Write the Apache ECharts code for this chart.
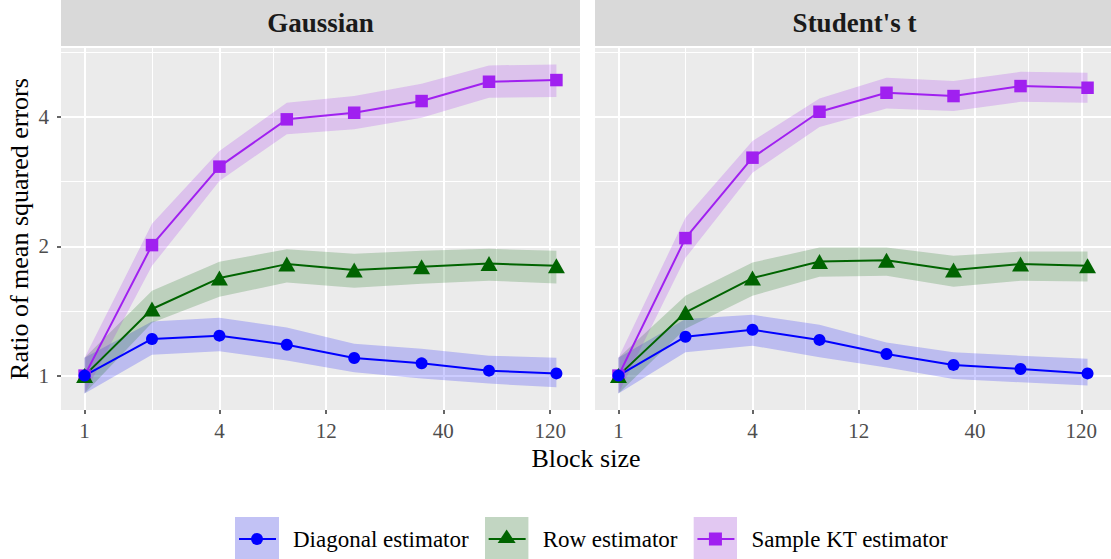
<!DOCTYPE html>
<html><head><meta charset="utf-8">
<script src="https://cdn.jsdelivr.net/npm/echarts@6/dist/echarts.min.js"></script>
<style>html,body{margin:0;padding:0;background:#fff}#c{width:1111px;height:559px}</style>
</head><body><div id="c"></div>
<script>
// ---------------- data ----------------
const blockSizes = [1, 2, 4, 8, 16, 32, 64, 128];
const xTickLabels = [1, 4, 12, 40, 120];
const xMinorBreaks = [2, 6.928, 21.909, 69.282];
const yTickLabels = [1, 2, 4];
const yMinorBreaks = [1.4142, 2.8284, 5.6569];
const facets = ['Gaussian', "Student's t"];
const estimators = ['Diagonal estimator', 'Row estimator', 'Sample KT estimator'];

// Gaussian facet
const gaussDiag   = [1, 1.217, 1.239, 1.180, 1.099, 1.068, 1.027, 1.012];
const gaussDiagLo = [0.908, 1.119, 1.139, 1.084, 1.018, 0.984, 0.958, 0.939];
const gaussDiagHi = [1.101, 1.337, 1.364, 1.295, 1.187, 1.155, 1.113, 1.101];
const gaussRow    = [1, 1.429, 1.687, 1.818, 1.761, 1.792, 1.824, 1.802];
const gaussRowLo  = [0.908, 1.328, 1.526, 1.648, 1.602, 1.636, 1.663, 1.639];
const gaussRowHi  = [1.101, 1.576, 1.841, 1.970, 1.921, 1.952, 1.973, 1.952];
const gaussKT     = [1, 2.013, 3.066, 3.951, 4.093, 4.358, 4.833, 4.877];
const gaussKTLo   = [0.908, 1.801, 2.840, 3.646, 3.745, 3.986, 4.435, 4.452];
const gaussKTHi   = [1.101, 2.256, 3.334, 4.318, 4.476, 4.780, 5.275, 5.303];
// Student's t facet
const tDiag   = [1, 1.232, 1.279, 1.211, 1.123, 1.059, 1.036, 1.012];
const tDiagLo = [0.908, 1.133, 1.174, 1.103, 1.045, 0.982, 0.965, 0.948];
const tDiagHi = [1.101, 1.355, 1.386, 1.314, 1.195, 1.133, 1.113, 1.094];
const tRow    = [1, 1.403, 1.687, 1.844, 1.857, 1.761, 1.818, 1.802];
const tRowLo  = [0.908, 1.286, 1.535, 1.699, 1.708, 1.610, 1.663, 1.657];
const tRowHi  = [1.101, 1.535, 1.834, 1.987, 1.987, 1.901, 1.945, 1.945];
const tKT     = [1, 2.090, 3.217, 4.115, 4.556, 4.476, 4.722, 4.680];
const tKTLo   = [0.908, 1.880, 2.969, 3.792, 4.190, 4.130, 4.341, 4.318];
const tKTHi   = [1.101, 2.330, 3.518, 4.420, 4.936, 4.850, 5.098, 5.070];

// ---------------- helpers ----------------
const FONT = 'Liberation Serif';
const L2 = v => Math.log2(v);
const xs = blockSizes.map(L2);
const pairs = arr => arr.map((v, i) => [xs[i], L2(v)]);

const panelData = [
  { 'Diagonal estimator': [gaussDiag, gaussDiagLo, gaussDiagHi],
    'Row estimator': [gaussRow, gaussRowLo, gaussRowHi],
    'Sample KT estimator': [gaussKT, gaussKTLo, gaussKTHi] },
  { 'Diagonal estimator': [tDiag, tDiagLo, tDiagHi],
    'Row estimator': [tRow, tRowLo, tRowHi],
    'Sample KT estimator': [tKT, tKTLo, tKTHi] }
];

const styles = {
  'Diagonal estimator':  { color: '#0000FF', symbol: 'circle',   size: 12,       key: '#C2C2F5' },
  'Row estimator':       { color: '#006400', symbol: 'triangle', size: [17, 15], key: '#C2D6C2' },
  'Sample KT estimator': { color: '#A020F0', symbol: 'rect',     size: 12.5,     key: '#E2C8F2' }
};

function keyIcon(name) {
  const st = styles[name];
  let mark;
  if (st.symbol === 'circle') mark = `<circle cx='22' cy='22' r='6' fill='${st.color}'/>`;
  else if (st.symbol === 'triangle') mark = `<polygon points='22,12.5 13,26 31,26' fill='${st.color}'/>`;
  else mark = `<rect x='15.5' y='15.5' width='13' height='13' fill='${st.color}'/>`;
  const svg = `<svg xmlns='http://www.w3.org/2000/svg' width='44' height='44' viewBox='0 0 44 44'>` +
    `<rect width='44' height='44' fill='${st.key}'/>` +
    `<line x1='4' y1='22' x2='41' y2='22' stroke='${st.color}' stroke-width='2'/>` + mark + `</svg>`;
  return 'image://data:image/svg+xml;charset=utf-8,' + encodeURIComponent(svg);
}

// ---------------- layout ----------------
const PANEL_TOP = 48, PANEL_H = 362, PANEL_W = 519;
const PANEL_LEFT = [61, 595];
const XMIN = -0.35, XMAX = 7.35, YMIN = -0.266, YMAX = 2.534;

const grids = PANEL_LEFT.map(l => ({
  left: l, top: PANEL_TOP, width: PANEL_W, height: PANEL_H,
  show: true, backgroundColor: '#EBEBEB', borderWidth: 0, containLabel: false
}));

const xAxes = [], yAxes = [];
[0, 1].forEach(g => {
  xAxes.push({
    gridIndex: g, type: 'value', min: XMIN, max: XMAX, position: 'bottom',
    axisLine: { show: false, onZero: false },
    axisTick: { show: true, length: 4, lineStyle: { color: '#333333', width: 1.5 },
                customValues: xTickLabels.map(L2) },
    axisLabel: { customValues: xTickLabels.map(L2), margin: 10,
                 formatter: v => String(Math.round(Math.pow(2, v))),
                 color: '#4D4D4D', fontSize: 21, fontFamily: FONT },
    splitLine: { show: true, lineStyle: { color: '#FFFFFF', width: 2 } }
  });
  yAxes.push({
    gridIndex: g, type: 'value', min: YMIN, max: YMAX, position: 'left',
    axisLine: { show: false, onZero: false },
    axisTick: { show: g === 0, length: 4, lineStyle: { color: '#333333', width: 1.5 },
                customValues: yTickLabels.map(L2) },
    axisLabel: { show: g === 0, customValues: yTickLabels.map(L2), margin: 12,
                 formatter: v => String(Math.round(Math.pow(2, v))),
                 color: '#4D4D4D', fontSize: 21, fontFamily: FONT },
    splitLine: { show: true, lineStyle: { color: '#FFFFFF', width: 2 } },
    name: g === 0 ? 'Ratio of mean squared errors' : '',
    nameLocation: 'middle', nameGap: 29, nameRotate: 90,
    nameTextStyle: { fontSize: 26, color: '#000000', fontFamily: FONT }
  });
});
// minor grid lines
[0, 1].forEach(g => {
  xAxes.push({
    gridIndex: g, type: 'value', min: XMIN, max: XMAX, position: 'top',
    axisLine: { show: false, onZero: false }, axisLabel: { show: false },
    axisTick: { show: false, customValues: xMinorBreaks.map(L2) },
    splitLine: { show: true, lineStyle: { color: '#FFFFFF', width: 1 } }
  });
  yAxes.push({
    gridIndex: g, type: 'value', min: YMIN, max: YMAX, position: 'right',
    axisLine: { show: false, onZero: false }, axisLabel: { show: false },
    axisTick: { show: false, customValues: yMinorBreaks.map(L2) },
    splitLine: { show: true, lineStyle: { color: '#FFFFFF', width: 1 } }
  });
});

// ---------------- series ----------------
const series = [];
// ribbons (confidence bands) drawn as polygons through the axis scales
panelData.forEach((pd, g) => {
  estimators.forEach(name => {
    const [mid, lo, hi] = pd[name];
    const st = styles[name];
    const ribbon = lo.map((v, i) => [xs[i], L2(v), L2(hi[i])]);
    series.push({
      type: 'custom', name, xAxisIndex: g, yAxisIndex: g, silent: true, z: 2,
      data: ribbon, encode: { x: 0, y: [1, 2] }, clip: true,
      itemStyle: { color: st.color },
      renderItem: (params, api) => {
        if (params.dataIndex !== 0) return null;
        const top = ribbon.map(d => api.coord([d[0], d[2]]));
        const bot = ribbon.map(d => api.coord([d[0], d[1]])).reverse();
        return { type: 'polygon', shape: { points: top.concat(bot) },
                 style: { fill: st.color, opacity: 0.2 } };
      }
    });
  });
});
panelData.forEach((pd, g) => {
  estimators.slice().reverse().forEach(name => {
    const st = styles[name];
    series.push({ type: 'line', name, xAxisIndex: g, yAxisIndex: g, data: pairs(pd[name][0]),
      symbol: st.symbol, symbolSize: st.size, showAllSymbol: true,
      lineStyle: { color: st.color, width: 2 }, itemStyle: { color: st.color, opacity: 1 },
      z: 3, emphasis: { disabled: true } });
  });
});

// ---------------- decorations: facet strips & x title ----------------
const graphic = [];
facets.forEach((f, g) => {
  graphic.push({ type: 'rect', shape: { x: PANEL_LEFT[g], y: 0, width: PANEL_W, height: 46 },
    style: { fill: '#D9D9D9' }, silent: true });
  graphic.push({ type: 'text', x: PANEL_LEFT[g] + PANEL_W / 2, y: 23,
    style: { text: f, textAlign: 'center', textVerticalAlign: 'middle',
             font: 'bold 27px ' + FONT, fill: '#1A1A1A' }, silent: true });
});
graphic.push({ type: 'text', x: 586, y: 458,
  style: { text: 'Block size', textAlign: 'center', textVerticalAlign: 'middle',
           font: '26px ' + FONT, fill: '#000000' }, silent: true });

const option = {
  animation: false,
  backgroundColor: '#FFFFFF',
  grid: grids,
  xAxis: xAxes,
  yAxis: yAxes,
  legend: {
    data: estimators.map(n => ({ name: n, icon: keyIcon(n) })),
    left: 235, top: 517, orient: 'horizontal', padding: 0,
    itemWidth: 44, itemHeight: 44, itemGap: 16,
    textStyle: { fontSize: 23, fontFamily: FONT, color: '#000000', padding: [0, 0, 0, 9] }
  },
  graphic,
  series
};

const chart = echarts.init(document.getElementById('c'), null, { renderer: 'svg' });
chart.setOption(option);
</script>
</body></html>
